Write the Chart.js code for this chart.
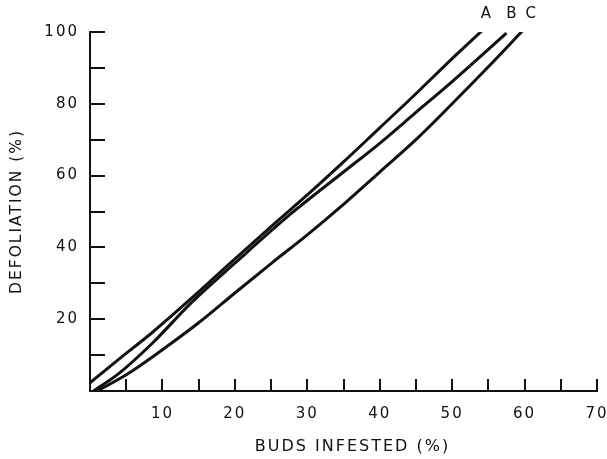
<!DOCTYPE html>
<html>
<head>
<meta charset="utf-8">
<script src="https://cdn.jsdelivr.net/npm/chart.js@4.4.1/dist/chart.umd.min.js"></script>
<style>
    html, body { margin: 0; padding: 0; background: #fff; }
    #wrap { width: 607px; height: 459px; }
</style>
</head>
<body>
<div id="wrap"><canvas id="defChart" width="607" height="459"></canvas></div>
<script>
// curve A, B, C: buds infested (%) vs defoliation (%)
const aX = [0, 4, 8.6, 14, 19.4, 25, 30, 35, 40, 45, 50, 54.1];
const aY = [2.3, 8.9, 16.3, 25.8, 35.7, 45.8, 54.6, 63.8, 73.3, 82.8, 92.6, 100.3];

const bX = [0.5, 4, 8.6, 14, 20, 28, 35, 40, 45, 50, 57.5];
const bY = [0, 4.9, 13.3, 24.6, 35.6, 49.8, 61, 69, 77.6, 86.2, 99.7];

const cX = [1, 5, 10, 15, 20, 25, 30, 35, 40, 45, 50, 55, 59.75];
const cY = [0, 4.5, 11.5, 19, 27.3, 35.5, 43.5, 52, 61, 70, 80, 90.3, 100.4];

const curveNames = ['A', 'B', 'C'];

const xTickLabels = [10, 20, 30, 40, 50, 60, 70];
const yTickLabels = [20, 40, 60, 80, 100];

const FONT = '"DejaVu Sans", sans-serif';
const INK = '#111';

function toPoints(xs, ys) {
    return xs.map((x, i) => ({ x: x, y: ys[i] }));
}

function curve(name, xs, ys) {
    return {
        label: name,
        data: toPoints(xs, ys),
        showLine: true,
        borderColor: INK,
        borderWidth: 3,
        pointRadius: 0,
        cubicInterpolationMode: 'monotone',
        fill: false
    };
}

// ticks point inwards on this figure, so draw them ourselves off the scales
const innerTicks = {
    id: 'innerTicks',
    beforeUpdate(chart) { chart.ctx.letterSpacing = '2px'; },
    beforeDraw(chart) { chart.ctx.letterSpacing = '2px'; },
    afterDraw(chart) {
        const ctx = chart.ctx;
        const xs = chart.scales.x, ys = chart.scales.y;
        const area = chart.chartArea;
        ctx.save();
        ctx.strokeStyle = INK;
        ctx.lineWidth = 2;
        ctx.beginPath();
        xs.ticks.forEach(t => {
            if (t.value <= 0) return;
            const px = Math.round(xs.getPixelForValue(t.value));
            ctx.moveTo(px, area.bottom);
            ctx.lineTo(px, area.bottom - 12);
        });
        ys.ticks.forEach(t => {
            if (t.value <= 0) return;
            const py = Math.round(ys.getPixelForValue(t.value));
            ctx.moveTo(area.left, py);
            ctx.lineTo(area.left + 15, py);
        });
        ctx.stroke();

        ctx.fillStyle = INK;
        ctx.letterSpacing = '2px';
        ctx.textAlign = 'center';
        ctx.textBaseline = 'middle';

        // curve letters above the ends of the lines
        ctx.font = '15px ' + FONT;
        const nudge = [5, 6, 9];
        chart.data.datasets.forEach((ds, i) => {
            const meta = chart.getDatasetMeta(i);
            const last = meta.data[meta.data.length - 1];
            ctx.fillText(curveNames[i], last.x + nudge[i], 14);
        });

        // axis titles
        ctx.font = '16px ' + FONT;
        ctx.fillText('BUDS INFESTED (%)', (area.left + area.right) / 2 + 9, 447);
        ctx.font = '15.5px ' + FONT;
        ctx.save();
        ctx.translate(17, (area.top + area.bottom) / 2);
        ctx.rotate(-Math.PI / 2);
        ctx.fillText('DEFOLIATION (%)', 0, 0);
        ctx.restore();
        ctx.restore();
    }
};

new Chart(document.getElementById('defChart'), {
    type: 'scatter',
    data: {
        datasets: [
            curve(curveNames[0], aX, aY),
            curve(curveNames[1], bX, bY),
            curve(curveNames[2], cX, cY)
        ]
    },
    options: {
        responsive: false,
        animation: false,
        devicePixelRatio: 1,
        layout: { padding: { top: 32, right: 10, left: 0, bottom: 0 } },
        plugins: {
            legend: { display: false },
            tooltip: { enabled: false }
        },
        scales: {
            x: {
                type: 'linear',
                min: 0,
                max: 70,
                grid: { display: false, drawTicks: false },
                border: { display: true, color: INK, width: 2 },
                ticks: {
                    stepSize: 5,
                    autoSkip: false,
                    maxRotation: 0,
                    padding: 14,
                    color: INK,
                    font: { family: FONT, size: 15 },
                    callback: v => xTickLabels.includes(v) ? String(v) : ''
                },
                afterFit: s => {
                    s.height = 68;
                    s.paddingLeft = 0;
                    s.paddingRight = 0;
                }
            },
            y: {
                type: 'linear',
                min: 0,
                max: 100,
                grid: { display: false, drawTicks: false },
                border: { display: true, color: INK, width: 2 },
                ticks: {
                    stepSize: 10,
                    autoSkip: false,
                    padding: 11,
                    color: INK,
                    font: { family: FONT, size: 15 },
                    callback: v => yTickLabels.includes(v) ? String(v) : ''
                },
                afterFit: s => {
                    s.width = 90;
                    s.paddingTop = 0;
                    s.paddingBottom = 0;
                }
            }
        }
    },
    plugins: [innerTicks]
});
</script>
</body>
</html>
